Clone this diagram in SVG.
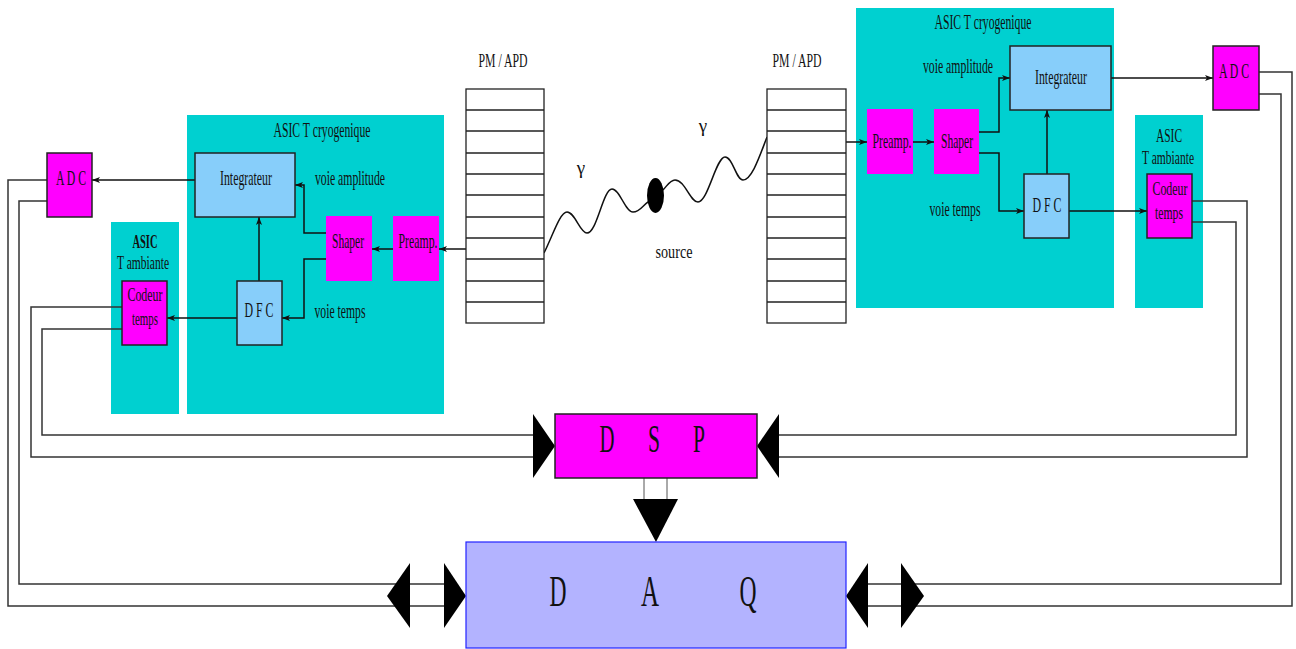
<svg xmlns="http://www.w3.org/2000/svg" width="1296" height="649" viewBox="0 0 1296 649">
<defs>
<style>
.t{font-family:"Liberation Serif","Times New Roman",serif;font-size:21px;fill:#111;text-anchor:middle}
.s{font-size:19px}
.b{font-weight:bold}
.asic{fill:#00D0D0}
.blue{fill:#87CEFA;stroke:#222;stroke-width:1.5}
.mag{fill:#FF00FF}
.magb{fill:#FF00FF;stroke:#222;stroke-width:1.5}
.w{fill:none;stroke:#111;stroke-width:1.5}
.wa{fill:none;stroke:#111;stroke-width:1.5;marker-end:url(#ah)}
.g{fill:none;stroke:#333;stroke-width:1.5}
.thin{fill:none;stroke:#555;stroke-width:1}
.tri{fill:#000}
.pm{fill:#fff;stroke:#222;stroke-width:1.3}
</style>
<marker id="ah" viewBox="0 0 8 6" refX="8" refY="3" markerWidth="8" markerHeight="6" markerUnits="userSpaceOnUse" orient="auto">
<path d="M0,0 L8,3 L0,6 L2,3 z" fill="#111"/>
</marker>
</defs>
<rect width="1296" height="649" fill="#fff"/>

<!-- containers -->
<g id="asic-cryo-left"><rect class="asic" x="187" y="115" width="257" height="299"/><text class="t" x="322" y="137" textLength="97" lengthAdjust="spacingAndGlyphs">ASIC T cryogenique</text></g>
<g id="asic-amb-left"><rect class="asic" x="111" y="222" width="68" height="192"/><text class="t b s" x="145" y="248" textLength="25" lengthAdjust="spacingAndGlyphs">ASIC</text><text class="t s" x="143" y="269" textLength="52" lengthAdjust="spacingAndGlyphs">T ambiante</text></g>
<g id="asic-cryo-right"><rect class="asic" x="856" y="8" width="258" height="300"/><text class="t" x="983" y="29" textLength="97" lengthAdjust="spacingAndGlyphs">ASIC T cryogenique</text></g>
<g id="asic-amb-right"><rect class="asic" x="1135" y="115" width="68" height="193"/><text class="t s" x="1169" y="142" textLength="26" lengthAdjust="spacingAndGlyphs">ASIC</text><text class="t s" x="1168" y="164" textLength="52" lengthAdjust="spacingAndGlyphs">T ambiante</text></g>

<!-- connectors -->
<g id="connectors">
<path class="wa" d="M195,180 H92"/>
<path class="wa" d="M326,233 H304 V185 H295"/>
<path class="wa" d="M326,259 H304 V318 H282"/>
<path class="wa" d="M466,249 H439"/>
<path class="wa" d="M393,249 H372"/>
<path class="wa" d="M259,281 V217"/>
<path class="wa" d="M237,318 H167"/>
<path class="g" d="M47,180 H8 V606 H444"/>
<path class="g" d="M47,201 H19 V584 H444"/>
<path class="g" d="M122,307 H31 V457 H533"/>
<path class="g" d="M122,329 H42 V435 H533"/>
<path class="wa" d="M846,142 H867"/>
<path class="wa" d="M913,142 H934"/>
<path class="wa" d="M979,132 H999 V78 H1010"/>
<path class="wa" d="M979,153 H999 V211 H1024"/>
<path class="wa" d="M1047,174 V110"/>
<path class="wa" d="M1111,78 H1213"/>
<path class="wa" d="M1069,211 H1147"/>
<path class="g" d="M1259,72 H1292 V606 H868"/>
<path class="g" d="M1259,94 H1281 V584 H868"/>
<path class="g" d="M1192,201 H1247 V457 H779"/>
<path class="g" d="M1192,222 H1236 V435 H779"/>
<path class="thin" d="M644,478 V499 M667,478 V499"/>
<path class="tri" d="M633,499 L678,499 L656,542 z"/>
<path class="tri" d="M533,414 L555,446 L533,478 z"/>
<path class="tri" d="M779,414 L757,446 L779,478 z"/>
<path class="tri" d="M410,563 L387,596 L410,628 z"/>
<path class="tri" d="M444,563 L466,596 L444,628 z"/>
<path class="tri" d="M868,563 L846,596 L868,628 z"/>
<path class="tri" d="M901,563 L924,596 L901,628 z"/>
<path class="w" d="M544,253 C553,235 560,212 567,212 C575,212 580,233 587,233 C597,233 603,189 612,189 C620,189 625,212 633,212 C640,212 643,205 648,202"/>
<path class="w" d="M663,190 C667,186 670,180 675,180 C685,180 690,202 698,202 C708,202 716,157 725,157 C733,157 736,180 743,180 C752,180 760,155 767,137"/>
</g>

<!-- left nodes -->
<g id="adc-left"><rect class="magb" x="47" y="153" width="45" height="64"/><text class="t" x="71" y="185" textLength="30" lengthAdjust="spacingAndGlyphs">A D C</text></g>
<g id="integ-left"><rect class="blue" x="195" y="153" width="100" height="64"/><text class="t" x="246" y="185" textLength="52" lengthAdjust="spacingAndGlyphs">Integrateur</text></g>
<g id="label-amp-left"><text class="t" x="350" y="185" textLength="70" lengthAdjust="spacingAndGlyphs">voie amplitude</text></g>
<g id="shaper-left"><rect class="mag" x="326" y="216" width="46" height="65"/><text class="t" x="348" y="248" textLength="32" lengthAdjust="spacingAndGlyphs">Shaper</text></g>
<g id="preamp-left"><rect class="mag" x="393" y="216" width="46" height="65"/><text class="t" x="418" y="248" textLength="39" lengthAdjust="spacingAndGlyphs">Preamp.</text></g>
<g id="codeur-left"><rect class="magb" x="122" y="281" width="45" height="64"/><text class="t s" x="145" y="301" textLength="35" lengthAdjust="spacingAndGlyphs">Codeur</text><text class="t s" x="145" y="325" textLength="26" lengthAdjust="spacingAndGlyphs">temps</text></g>
<g id="dfc-left"><rect class="blue" x="237" y="281" width="45" height="64"/><text class="t" x="259" y="317" textLength="29" lengthAdjust="spacingAndGlyphs">D F C</text></g>
<g id="label-temps-left"><text class="t" x="340" y="318" textLength="51" lengthAdjust="spacingAndGlyphs">voie temps</text></g>

<!-- PM/APD stacks and source -->
<g id="pm-left">
<rect class="pm" x="466" y="89" width="78" height="234"/>
<path class="pm" d="M466,110 H544 M466,131 H544 M466,153 H544 M466,174 H544 M466,195 H544 M466,217 H544 M466,238 H544 M466,259 H544 M466,281 H544 M466,302 H544"/>
<text class="t s" x="503" y="67" textLength="49" lengthAdjust="spacingAndGlyphs">PM / APD</text>
</g>
<g id="pm-right">
<rect class="pm" x="767" y="89" width="79" height="234"/>
<path class="pm" d="M767,110 H846 M767,131 H846 M767,153 H846 M767,174 H846 M767,195 H846 M767,217 H846 M767,238 H846 M767,259 H846 M767,281 H846 M767,302 H846"/>
<text class="t s" x="797" y="67" textLength="49" lengthAdjust="spacingAndGlyphs">PM / APD</text>
</g>
<g id="source"><ellipse cx="655.5" cy="195.5" rx="8.5" ry="17.5" fill="#000"/><text class="t s" x="674" y="258" textLength="37" lengthAdjust="spacingAndGlyphs">source</text></g>
<g id="gamma-left"><text class="t s" x="581" y="174">γ</text></g>
<g id="gamma-right"><text class="t s" x="703" y="132">γ</text></g>

<!-- right nodes -->
<g id="label-amp-right"><text class="t" x="958" y="73" textLength="70" lengthAdjust="spacingAndGlyphs">voie amplitude</text></g>
<g id="integ-right"><rect class="blue" x="1010" y="46" width="101" height="64"/><text class="t" x="1061" y="84" textLength="52" lengthAdjust="spacingAndGlyphs">Integrateur</text></g>
<g id="preamp-right"><rect class="mag" x="867" y="109" width="46" height="65"/><text class="t" x="892" y="148" textLength="39" lengthAdjust="spacingAndGlyphs">Preamp.</text></g>
<g id="shaper-right"><rect class="mag" x="934" y="109" width="45" height="65"/><text class="t" x="957" y="148" textLength="32" lengthAdjust="spacingAndGlyphs">Shaper</text></g>
<g id="label-temps-right"><text class="t" x="955" y="216" textLength="51" lengthAdjust="spacingAndGlyphs">voie temps</text></g>
<g id="dfc-right"><rect class="blue" x="1024" y="174" width="45" height="64"/><text class="t" x="1047" y="212" textLength="29" lengthAdjust="spacingAndGlyphs">D F C</text></g>
<g id="codeur-right"><rect class="magb" x="1147" y="174" width="45" height="64"/><text class="t s" x="1170" y="195" textLength="35" lengthAdjust="spacingAndGlyphs">Codeur</text><text class="t s" x="1169" y="219" textLength="28" lengthAdjust="spacingAndGlyphs">temps</text></g>
<g id="adc-right"><rect class="magb" x="1213" y="46" width="46" height="64"/><text class="t" x="1234" y="78" textLength="30" lengthAdjust="spacingAndGlyphs">A D C</text></g>

<!-- DSP and DAQ -->
<g id="dsp"><rect x="555" y="414" width="202" height="64" fill="#FF00FF" stroke="#222" stroke-width="1.5"/>
<text class="t" style="font-size:40px" x="607" y="452" textLength="15" lengthAdjust="spacingAndGlyphs">D</text>
<text class="t" style="font-size:40px" x="654" y="452" textLength="12" lengthAdjust="spacingAndGlyphs">S</text>
<text class="t" style="font-size:40px" x="699" y="452" textLength="12" lengthAdjust="spacingAndGlyphs">P</text></g>
<g id="daq"><rect x="466" y="542" width="380" height="106" fill="#B3B3FF" stroke="#2222FF" stroke-width="1.2"/>
<text class="t" style="font-size:45px" x="558" y="606" textLength="17" lengthAdjust="spacingAndGlyphs">D</text>
<text class="t" style="font-size:45px" x="650" y="606" textLength="18" lengthAdjust="spacingAndGlyphs">A</text>
<text class="t" style="font-size:45px" x="748" y="606" textLength="17" lengthAdjust="spacingAndGlyphs">Q</text></g>
</svg>
